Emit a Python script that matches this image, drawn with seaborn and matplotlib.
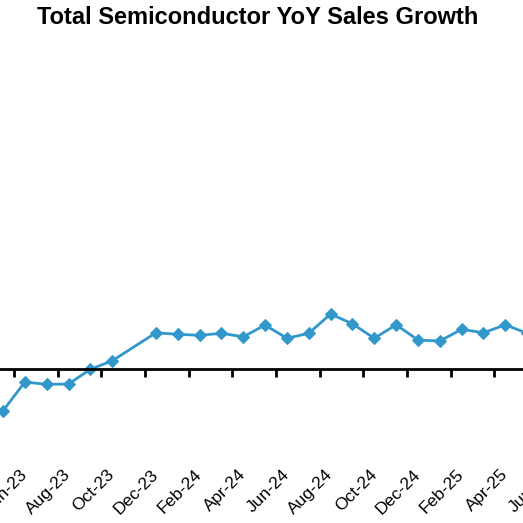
import numpy as np
import pandas as pd
import seaborn as sns
from matplotlib import pyplot as plt

# months shown on the category axis (chart is cropped on both sides)
months = ['May-23', 'Jun-23', 'Jul-23', 'Aug-23', 'Sep-23', 'Oct-23', 'Nov-23', 'Dec-23',
          'Jan-24', 'Feb-24', 'Mar-24', 'Apr-24', 'May-24', 'Jun-24', 'Jul-24', 'Aug-24',
          'Sep-24', 'Oct-24', 'Nov-24', 'Dec-24', 'Jan-25', 'Feb-25', 'Mar-25', 'Apr-25',
          'May-25', 'Jun-25']
# YoY growth in % (Nov-23 has no point, line just connects)
growth = [-16.6, -5.1, -6.0, -5.9, 0.0, 3.4, np.nan, 14.6,
          14.0, 13.6, 14.4, 13.0, 17.7, 12.4, 14.4, 22.1,
          18.2, 12.4, 17.8, 11.7, 11.3, 16.0, 14.6, 17.8,
          14.4, 14.0]

df = pd.DataFrame({'idx': np.arange(len(months)), 'growth': growth})

sns.set_style('white')
plt.rcParams['font.family'] = ['Liberation Sans', 'DejaVu Sans']

W, H = 523, 523
extra = 60  # axes runs past the right edge, the chart is cropped there
fig = plt.figure(figsize=(W / 100, H / 100), dpi=100)
ax = fig.add_axes([0, 0, (W + extra) / W, 1])
ax.patch.set_alpha(0)

line_color = '#3298CC'
sns.lineplot(data=df, x='idx', y='growth', ax=ax, color=line_color, linewidth=2,
             marker='D', markersize=6, markeredgecolor=line_color)

for s in ['left', 'right', 'top']:
    ax.spines[s].set_visible(False)
ax.spines['bottom'].set_position(('data', 0))
ax.spines['bottom'].set_color('black')
ax.spines['bottom'].set_linewidth(2)
ax.set_yticks([])

lab_pos = df['idx'][1::2]
ax.set_xticks(lab_pos)
ax.set_xticklabels([months[i] for i in lab_pos], rotation=45, ha='right',
                   va='center', rotation_mode='anchor', fontsize=12.5, color='black')
ax.tick_params(axis='x', which='major', bottom=True, length=0, pad=74)
ax.set_xticks(df['idx'][::2] + 0.5, minor=True)
ax.tick_params(axis='x', which='minor', bottom=True, length=6, width=2,
               direction='out', color='black')
ax.set_xlabel('')
ax.set_ylabel('')

# crop window like the reference (set last, ticks would widen it)
px_per_cat = 21.84
ax.set_xlim(-3 / px_per_cat, (W + extra - 3) / px_per_cat)
px_per_unit = 2.5
zero_from_bottom = H - 369.3
ax.set_ylim(-zero_from_bottom / px_per_unit, (H - zero_from_bottom) / px_per_unit)

fig.text(0.492, 1 - 18 / H, 'Total Semiconductor YoY Sales Growth', ha='center',
         va='center', fontsize=17, fontweight='bold', color='black')

fig.savefig('out.png', dpi=100)
